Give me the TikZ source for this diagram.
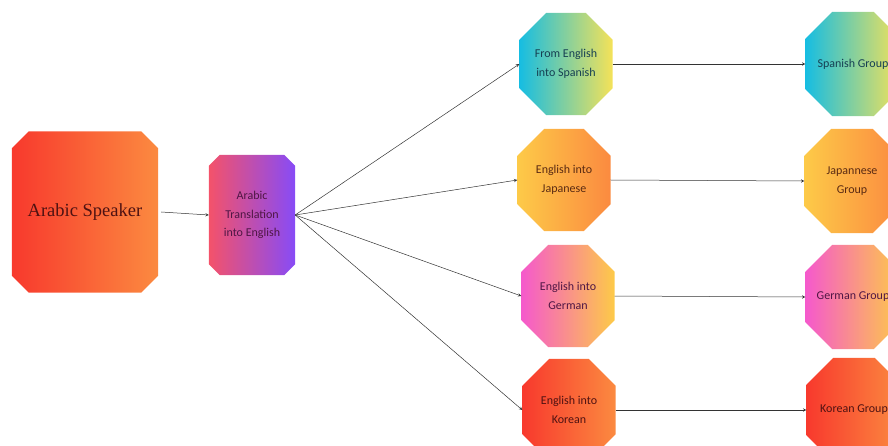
\documentclass[tikz,border=0pt]{standalone}
\usepackage{fontspec}
\setmainfont{Liberation Serif}
\newfontfamily\boxfont{Carlito}
\usetikzlibrary{calc,backgrounds}

\definecolor{redL}{HTML}{F8392D}
\definecolor{orgR}{HTML}{FB8A40}
\definecolor{pinkL}{HTML}{F4526A}
\definecolor{purR}{HTML}{874BF7}
\definecolor{cyanL}{HTML}{16BDE2}
\definecolor{yelR}{HTML}{F5E258}
\definecolor{yelL}{HTML}{FDCA48}
\definecolor{magL}{HTML}{F559CC}
\definecolor{txtRed}{HTML}{4E1212}
\definecolor{txtPur}{HTML}{4E1644}
\definecolor{txtTeal}{HTML}{163F52}
\definecolor{txtBrn}{HTML}{5A2A12}

% octagon behind a named node: node, cut, left colour, right colour
\newcommand{\octfill}[4]{%
  \shade[left color=#3,right color=#4]
    ($(#1.north west)+(#2,0)$) -- ($(#1.north east)+(-#2,0)$) --
    ($(#1.north east)+(0,#2)$) -- ($(#1.south east)+(0,-#2)$) --
    ($(#1.south east)+(-#2,0)$) -- ($(#1.south west)+(#2,0)$) --
    ($(#1.south west)+(0,-#2)$) -- ($(#1.north west)+(0,#2)$) -- cycle;}

\begin{document}
\begin{tikzpicture}[x=1pt,y=-1pt,
  box/.style={inner sep=0pt,align=center,font=\boxfont\fontsize{12}{18.5}\selectfont},
  lang/.style={box,minimum width=93pt,minimum height=102pt},
  group/.style={box,minimum width=95pt,minimum height=104pt},
  link/.style={->,>=stealth,draw=black!80,line width=0.5pt}]
\useasboundingbox (0,0) rectangle (888,446);

\node[minimum width=146pt,minimum height=161pt,text=txtRed,font=\fontsize{18.5}{22}\selectfont] (spk) at (85,212) {Arabic Speaker};
\node[box,minimum width=86pt,minimum height=120pt,text=txtPur] (trans) at (252,215) {Arabic\\Translation\\into English};

\node[lang,text=txtTeal] (spa) at (566,64) {From English\\into Spanish};
\node[lang,text=txtBrn] (jap) at (564,180) {English into\\Japanese};
\node[lang,text=txtPur] (ger) at (568,296) {English into\\German};
\node[lang,text=txtRed] (kor) at (569,410) {English into\\Korean};

\node[group,text=txtTeal] (spag) at (853,64) {Spanish Group};
\node[group,text=txtBrn] (japg) at (852,181) {Japannese\\Group};
\node[group,text=txtPur] (gerg) at (853,297) {German Group};
\node[group,text=txtRed] (korg) at (854,410) {Korean Group};

\begin{scope}[on background layer]
\octfill{spk}{17}{redL}{orgR}
\octfill{trans}{11}{pinkL}{purR}
\octfill{spa}{27}{cyanL}{yelR}
\octfill{jap}{27}{yelL}{orgR}
\octfill{ger}{27}{magL}{yelL}
\octfill{kor}{27}{redL}{orgR}
\octfill{spag}{27}{cyanL}{yelR}
\octfill{japg}{27}{yelL}{orgR}
\octfill{gerg}{27}{magL}{yelL}
\octfill{korg}{27}{redL}{orgR}
\end{scope}

\draw[link] ([xshift=3pt]spk.east) -- (trans.west);
\foreach \n in {spa,jap,ger,kor}
  \draw[link] (trans.east) -- (\n.west);
\draw[link] (spa.east) -- (spag.west);
\draw[link] (jap.east) -- (japg.west);
\draw[link] (ger.east) -- (gerg.west);
\draw[link] (kor.east) -- (korg.west);
\end{tikzpicture}
\end{document}
